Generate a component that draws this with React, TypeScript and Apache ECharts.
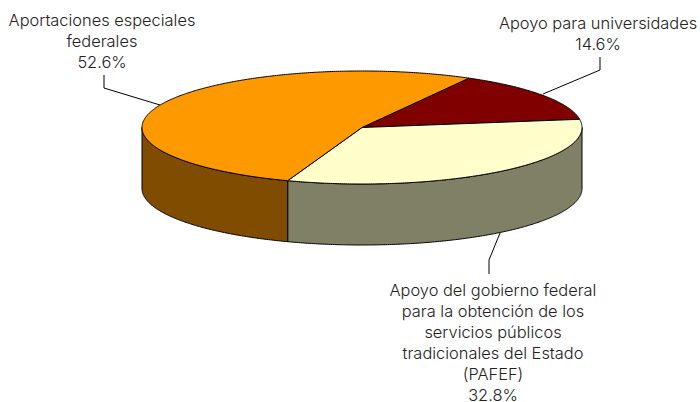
import React, { useEffect, useRef } from "react";
import * as echarts from "echarts";

const sliceNames = [
  "Apoyo para universidades",
  "Apoyo del gobierno federal\npara la obtención de los\nservicios públicos\ntradicionales del Estado\n(PAFEF)",
  "Aportaciones especiales\nfederales",
];
const sliceValues = [14.6, 32.8, 52.6];
const topColors = ["#800000", "#FFFFCC", "#FF9900"];
const wallColors = ["#400000", "#808066", "#804D00"];

const CX = 362, CY = 127.5, RX = 220, RY = 56.5, DEPTH = 61;
const START_DEG = 60.9;
const FONT = "Inter, 'Open Sans', sans-serif";
const total = sliceValues.reduce((a, b) => a + b, 0);

function pt(deg: number, dy = 0): number[] {
  const r = (deg * Math.PI) / 180;
  return [CX + RX * Math.cos(r), CY - RY * Math.sin(r) + dy];
}

function arc(from: number, to: number, dy = 0): number[][] {
  const out: number[][] = [];
  const steps = Math.max(2, Math.ceil((from - to) * 2));
  for (let i = 0; i <= steps; i++) out.push(pt(from + ((to - from) * i) / steps, dy));
  return out;
}

function angles(index: number): [number, number] {
  let a = START_DEG;
  for (let i = 0; i < index; i++) a -= (sliceValues[i] / total) * 360;
  return [a, a - (sliceValues[index] / total) * 360];
}

const lineStyle = { stroke: "#000", lineWidth: 1, fill: "none" };

function labelText(x: number, y: number, text: string) {
  return {
    type: "text",
    x,
    y,
    silent: true,
    style: {
      text,
      font: `300 16.4px ${FONT}`,
      fill: "#222",
      align: "center",
      verticalAlign: "top",
      lineHeight: 21,
    },
  };
}

export default function App() {
  const ref = useRef<HTMLDivElement>(null);
  useEffect(() => {
    const chart = echarts.init(ref.current!, null, { renderer: "svg" });
    chart.setOption({
      animation: false,
      backgroundColor: "#fff",
      series: [
        {
          type: "custom",
          coordinateSystem: "none",
          silent: true,
          z: 2,
          data: sliceValues.map((v, i) => ({ value: v, name: sliceNames[i] })),
          renderItem: (params: any) => {
            const i = params.dataIndex;
            const [from, to] = angles(i);
            const children: any[] = [];
            for (const k of [0, -360, 360]) {
              const hi = Math.min(from + k, 360);
              const lo = Math.max(to + k, 180);
              if (hi > lo) {
                children.push({
                  type: "polygon",
                  shape: { points: [...arc(hi, lo), ...arc(hi, lo, DEPTH).reverse()] },
                  style: { fill: wallColors[i], stroke: "#000", lineWidth: 1, lineJoin: "round" },
                });
              }
            }
            return { type: "group", children };
          },
        },
        {
          type: "custom",
          coordinateSystem: "none",
          silent: true,
          z: 3,
          data: sliceValues.map((v, i) => ({ value: v, name: sliceNames[i] })),
          renderItem: (params: any) => {
            const i = params.dataIndex;
            const [from, to] = angles(i);
            return {
              type: "polygon",
              shape: { points: [[CX, CY], ...arc(from, to)] },
              style: { fill: topColors[i], stroke: "#000", lineWidth: 1, lineJoin: "round" },
            };
          },
        },
      ],
      graphic: [
        { type: "polyline", shape: { points: [[104, 75], [104, 88], [160, 105]] }, style: lineStyle, silent: true },
        { type: "polyline", shape: { points: [[600, 57], [600, 70], [543, 94]] }, style: lineStyle, silent: true },
        { type: "polyline", shape: { points: [[489, 274], [489, 260], [500, 233]] }, style: lineStyle, silent: true },
        labelText(102, 9, `${sliceNames[2]}\n${sliceValues[2].toFixed(1)}%`),
        labelText(598, 12, `${sliceNames[0]}\n${sliceValues[0].toFixed(1)}%`),
        labelText(493, 279, `${sliceNames[1]}\n${sliceValues[1].toFixed(1)}%`),
      ],
    });
    return () => chart.dispose();
  }, []);
  return <div ref={ref} style={{ position: "fixed", left: 0, top: 0, width: 700, height: 402 }} />;
}
